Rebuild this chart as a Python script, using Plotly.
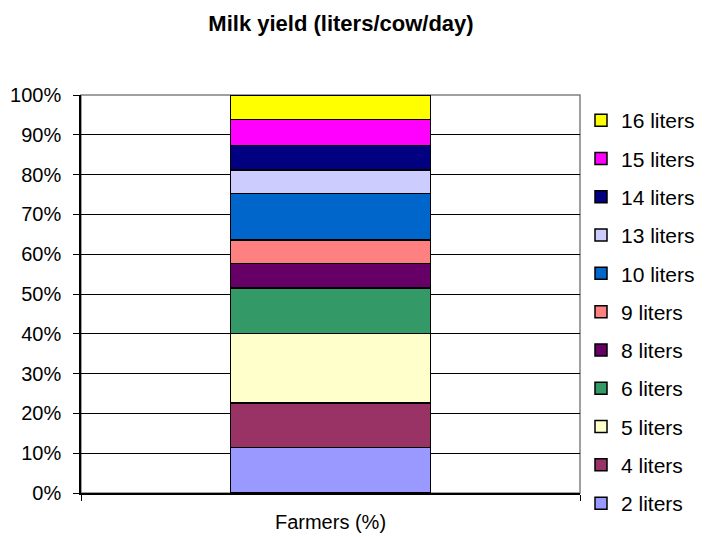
import plotly.graph_objects as go

# Share of farmers by daily milk yield per cow (stacked to 100%)
categories = ["Farmers (%)"]
series_names = ["2 liters", "4 liters", "5 liters", "6 liters", "8 liters", "9 liters",
                "10 liters", "13 liters", "14 liters", "15 liters", "16 liters"]
series_values = [11.4, 11.2, 17.5, 11.4, 6.2, 5.9, 11.6, 6.0, 6.1, 6.5, 6.2]
series_colors = ["#9999FF", "#993366", "#FFFFCC", "#339966", "#660066", "#FF8080",
                 "#0066CC", "#CCCCFF", "#000080", "#FF00FF", "#FFFF00"]
y_tick_values = [0, 10, 20, 30, 40, 50, 60, 70, 80, 90, 100]
y_tick_labels = [f"{v}%" for v in y_tick_values]

W, H = 707, 537

fig = go.Figure()
n = len(series_names)
for i, (name, val, col) in enumerate(zip(series_names, series_values, series_colors)):
    fig.add_trace(go.Bar(
        x=categories, y=[val], name=name, legendgroup=name,
        legendrank=100 + (n - i),  # top segment listed first
        marker=dict(color=col, line=dict(color="#000000", width=1.5)),
        width=0.4,
    ))

fig.update_layout(
    barmode="stack",
    width=W, height=H,
    margin=dict(l=81, r=127, t=95, b=44, autoexpand=False),
    paper_bgcolor="white", plot_bgcolor="white",
    font=dict(family="Arial, Liberation Sans, sans-serif", size=20, color="#000000"),
    title=dict(text="<b>Milk yield (liters/cow/day)</b>", x=341 / W, xanchor="center",
               xref="container", yref="container", y=1 - 23.5 / H, yanchor="middle",
               font=dict(size=22)),
    showlegend=True,
    legend=dict(traceorder="grouped", tracegroupgap=8,
                xref="container", yref="container",
                x=581 / W, xanchor="left", y=1 - 100 / H, yanchor="top",
                font=dict(size=21), itemwidth=30, bgcolor="rgba(0,0,0,0)",
                maxheight=460),
    shapes=[dict(type="rect", xref="paper", yref="paper", x0=0, x1=1, y0=0, y1=1,
                 line=dict(color="#808080", width=1.5), layer="below")],
)
fig.update_yaxes(range=[0, 100], tickvals=y_tick_values, ticktext=y_tick_labels,
                 showgrid=True, gridcolor="#000000", gridwidth=1,
                 showline=True, linecolor="#000000", linewidth=1.5,
                 ticks="outside", ticklen=6, tickcolor="#000000", zeroline=False,
                 ticklabelstandoff=8, automargin=False)
fig.update_xaxes(showline=True, linecolor="#000000", linewidth=1.5,
                 ticks="outside", tickson="boundaries", ticklen=6, tickcolor="#000000",
                 range=[-0.5, 0.5], ticklabelstandoff=10, automargin=False)

fig.write_html("out.html")
